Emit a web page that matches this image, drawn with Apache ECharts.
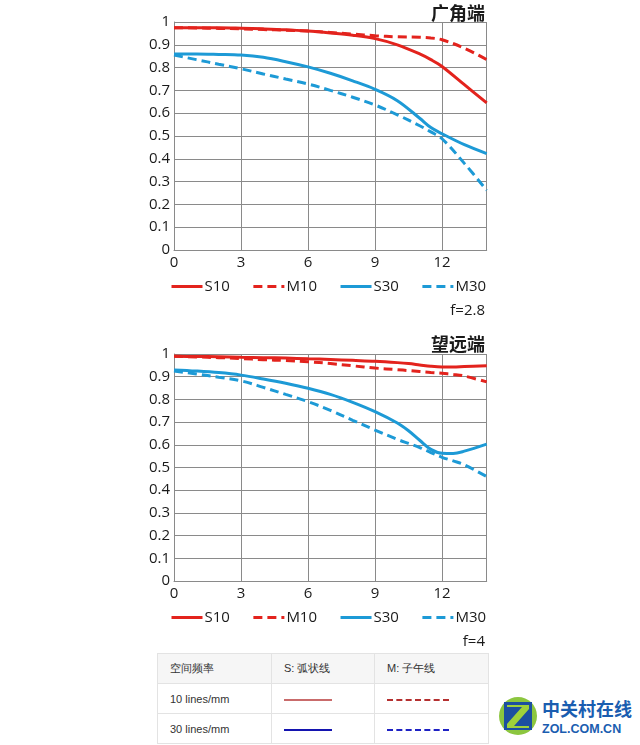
<!DOCTYPE html>
<html><head><meta charset="utf-8">
<script src="https://cdn.jsdelivr.net/npm/echarts@6/dist/echarts.min.js"></script>
<style>
html,body{margin:0;padding:0;background:#fff;width:640px;height:745px;overflow:hidden;position:relative;font-family:"Liberation Sans",Arial,sans-serif;}
#chart{position:absolute;left:0;top:0;width:640px;height:650px;}
table{position:absolute;left:157px;top:653px;border-collapse:collapse;font-size:11px;color:#333;}
td{border:1px solid #e3e3e3;height:29px;padding:0 0 0 12px;}
tr.h td{background:#f6f6f6;}
.sl{display:inline-block;width:48px;height:0;border-top:2px solid;vertical-align:middle;}
.dl{display:inline-block;width:62px;height:0;border-top:2px dashed;vertical-align:middle;}
#wm{position:absolute;left:498px;top:694px;width:140px;height:45px;}
</style></head>
<body>
<div id="chart"></div>
<table>
<tr class="h"><td style="width:101px">空间频率</td><td style="width:90px">S: 弧状线</td><td style="width:101px">M: 子午线</td></tr>
<tr><td>10 lines/mm</td><td><span class="sl" style="border-color:#c96b6b"></span></td><td><span class="dl" style="border-color:#b53030"></span></td></tr>
<tr><td>30 lines/mm</td><td><span class="sl" style="border-color:#1414b0"></span></td><td><span class="dl" style="border-color:#1e22c4"></span></td></tr>
</table>
<div id="wm">
<svg width="140" height="45" viewBox="0 0 140 45">
<circle cx="20" cy="22" r="19" fill="#8cc63f"/>
<polygon points="6,8 34,8 34,36 6,36" fill="#1c4fa0"/>
<polygon points="9,11 31,11 31,15 16,32 31,32 31,34 9,34 9,30 24,13 9,13" fill="#9fd13a"/>
<text x="44" y="22" font-family="Noto Sans CJK SC" font-weight="bold" font-size="18" fill="#1a5db0">中关村在线</text>
<text x="44" y="39" font-family="Liberation Sans" font-weight="bold" font-size="12.5" fill="#1a5db0">ZOL.COM.CN</text>
</svg>
</div>
<script>
// Spatial positions (mm from center)
const xWide = [0, 1, 2, 3, 4, 5, 6, 7, 8, 9, 10, 11, 11.5, 12, 13, 14];
const wideS10 = [0.975, 0.975, 0.975, 0.973, 0.970, 0.966, 0.960, 0.952, 0.942, 0.927, 0.900, 0.860, 0.835, 0.805, 0.725, 0.645];
const wideM10 = [0.975, 0.974, 0.972, 0.970, 0.967, 0.964, 0.960, 0.954, 0.947, 0.940, 0.935, 0.933, 0.930, 0.922, 0.885, 0.835];
const wideS30 = [0.860, 0.860, 0.858, 0.855, 0.845, 0.826, 0.803, 0.775, 0.742, 0.705, 0.655, 0.578, 0.537, 0.510, 0.462, 0.423];
const wideM30 = [0.855, 0.835, 0.815, 0.795, 0.772, 0.750, 0.728, 0.700, 0.670, 0.636, 0.593, 0.545, 0.518, 0.488, 0.380, 0.262];

const xTele = [0, 1, 2, 3, 4, 5, 6, 7, 8, 9, 10, 10.5, 11, 11.5, 12, 12.5, 13, 14];
const teleS10 = [0.990, 0.989, 0.988, 0.986, 0.984, 0.982, 0.979, 0.976, 0.972, 0.968, 0.962, 0.958, 0.952, 0.946, 0.943, 0.943, 0.945, 0.948];
const teleM10 = [0.990, 0.987, 0.984, 0.980, 0.975, 0.971, 0.966, 0.958, 0.948, 0.938, 0.931, 0.927, 0.923, 0.919, 0.915, 0.910, 0.903, 0.877];
const teleS30 = [0.930, 0.925, 0.918, 0.907, 0.890, 0.871, 0.849, 0.822, 0.787, 0.746, 0.696, 0.662, 0.620, 0.580, 0.563, 0.562, 0.572, 0.603];
const teleM30 = [0.925, 0.912, 0.898, 0.882, 0.853, 0.822, 0.790, 0.752, 0.708, 0.665, 0.624, 0.606, 0.588, 0.566, 0.545, 0.529, 0.512, 0.460];

const seriesNames = ['S10', 'M10', 'S30', 'M30'];
const xTicks = [0, 3, 6, 9, 12];
const titles = ['广角端', '望远端'];
const apertures = ['f=2.8', 'f=4'];

const RED = '#e3231d', BLUE = '#1d9ad6';
const styles = {
  S10: {color: RED, type: 'solid'},
  M10: {color: RED, type: [9, 5]},
  S30: {color: BLUE, type: 'solid'},
  M30: {color: BLUE, type: [9, 5]}
};
const FONT = 'Open Sans';
const grids = [
  {left: 174, top: 22, width: 312.7, height: 228},
  {left: 174, top: 354, width: 312.7, height: 227}
];
function xAxis(i) {
  return {type: 'value', gridIndex: i, min: 0, max: 14, interval: 3,
    axisLine: {show: true, lineStyle: {color: '#8a8a8a', width: 1}},
    axisTick: {show: false},
    splitLine: {show: true, lineStyle: {color: '#8a8a8a', width: 1}},
    axisLabel: {showMaxLabel: false, color: '#1a1a1a', fontSize: 15, fontFamily: FONT, margin: 5,
      formatter: v => xTicks.indexOf(v) >= 0 ? String(v) : ''}};
}
function yAxis(i) {
  return {type: 'value', gridIndex: i, min: 0, max: 1, interval: 0.1,
    axisLine: {show: true, lineStyle: {color: '#8a8a8a', width: 1}},
    axisTick: {show: false},
    splitLine: {show: true, lineStyle: {color: '#8a8a8a', width: 1}},
    axisLabel: {color: '#1a1a1a', fontSize: 15, fontFamily: FONT, margin: 4,
      formatter: v => String(Math.round(v * 10) / 10)}};
}
function mk(name, xs, ys, gi) {
  return {name: name, type: 'line', xAxisIndex: gi, yAxisIndex: gi, smooth: 0.35,
    symbol: 'none', data: xs.map((x, k) => [x, ys[k]]),
    lineStyle: {color: styles[name].color, type: styles[name].type, width: 3},
    itemStyle: {color: styles[name].color}};
}
const series = [
  mk('S10', xWide, wideS10, 0), mk('M10', xWide, wideM10, 0), mk('S30', xWide, wideS30, 0), mk('M30', xWide, wideM30, 0),
  mk('S10', xTele, teleS10, 1), mk('M10', xTele, teleM10, 1), mk('S30', xTele, teleS30, 1), mk('M30', xTele, teleM30, 1)
];
function legend(top) {
  return {top: top, left: 165, itemWidth: 31, itemHeight: 14, itemGap: 22, data: seriesNames,
    selectedMode: false, itemStyle: {opacity: 0},
    lineStyle: {width: 3},
    textStyle: {color: '#1a1a1a', fontSize: 15, fontFamily: FONT, padding: [0, 0, 0, -3]}};
}
const chart = echarts.init(document.getElementById('chart'), null, {renderer: 'canvas'});
chart.setOption({
  animation: false,
  grid: grids,
  xAxis: [xAxis(0), xAxis(1)],
  yAxis: [yAxis(0), yAxis(1)],
  legend: [legend(274), legend(605)],
  title: [
    {text: titles[0], right: 150, top: -1, textStyle: {fontSize: 18, fontWeight: 'bold', color: '#1a1a1a', fontFamily: 'Noto Sans CJK SC'}},
    {text: apertures[0], right: 150, top: 298, textStyle: {fontSize: 15, fontWeight: 'normal', color: '#1a1a1a', fontFamily: FONT}},
    {text: titles[1], right: 150, top: 330, textStyle: {fontSize: 18, fontWeight: 'bold', color: '#1a1a1a', fontFamily: 'Noto Sans CJK SC'}},
    {text: apertures[1], right: 150, top: 629, textStyle: {fontSize: 15, fontWeight: 'normal', color: '#1a1a1a', fontFamily: FONT}}
  ],
  series: series
});
</script>
</body></html>
